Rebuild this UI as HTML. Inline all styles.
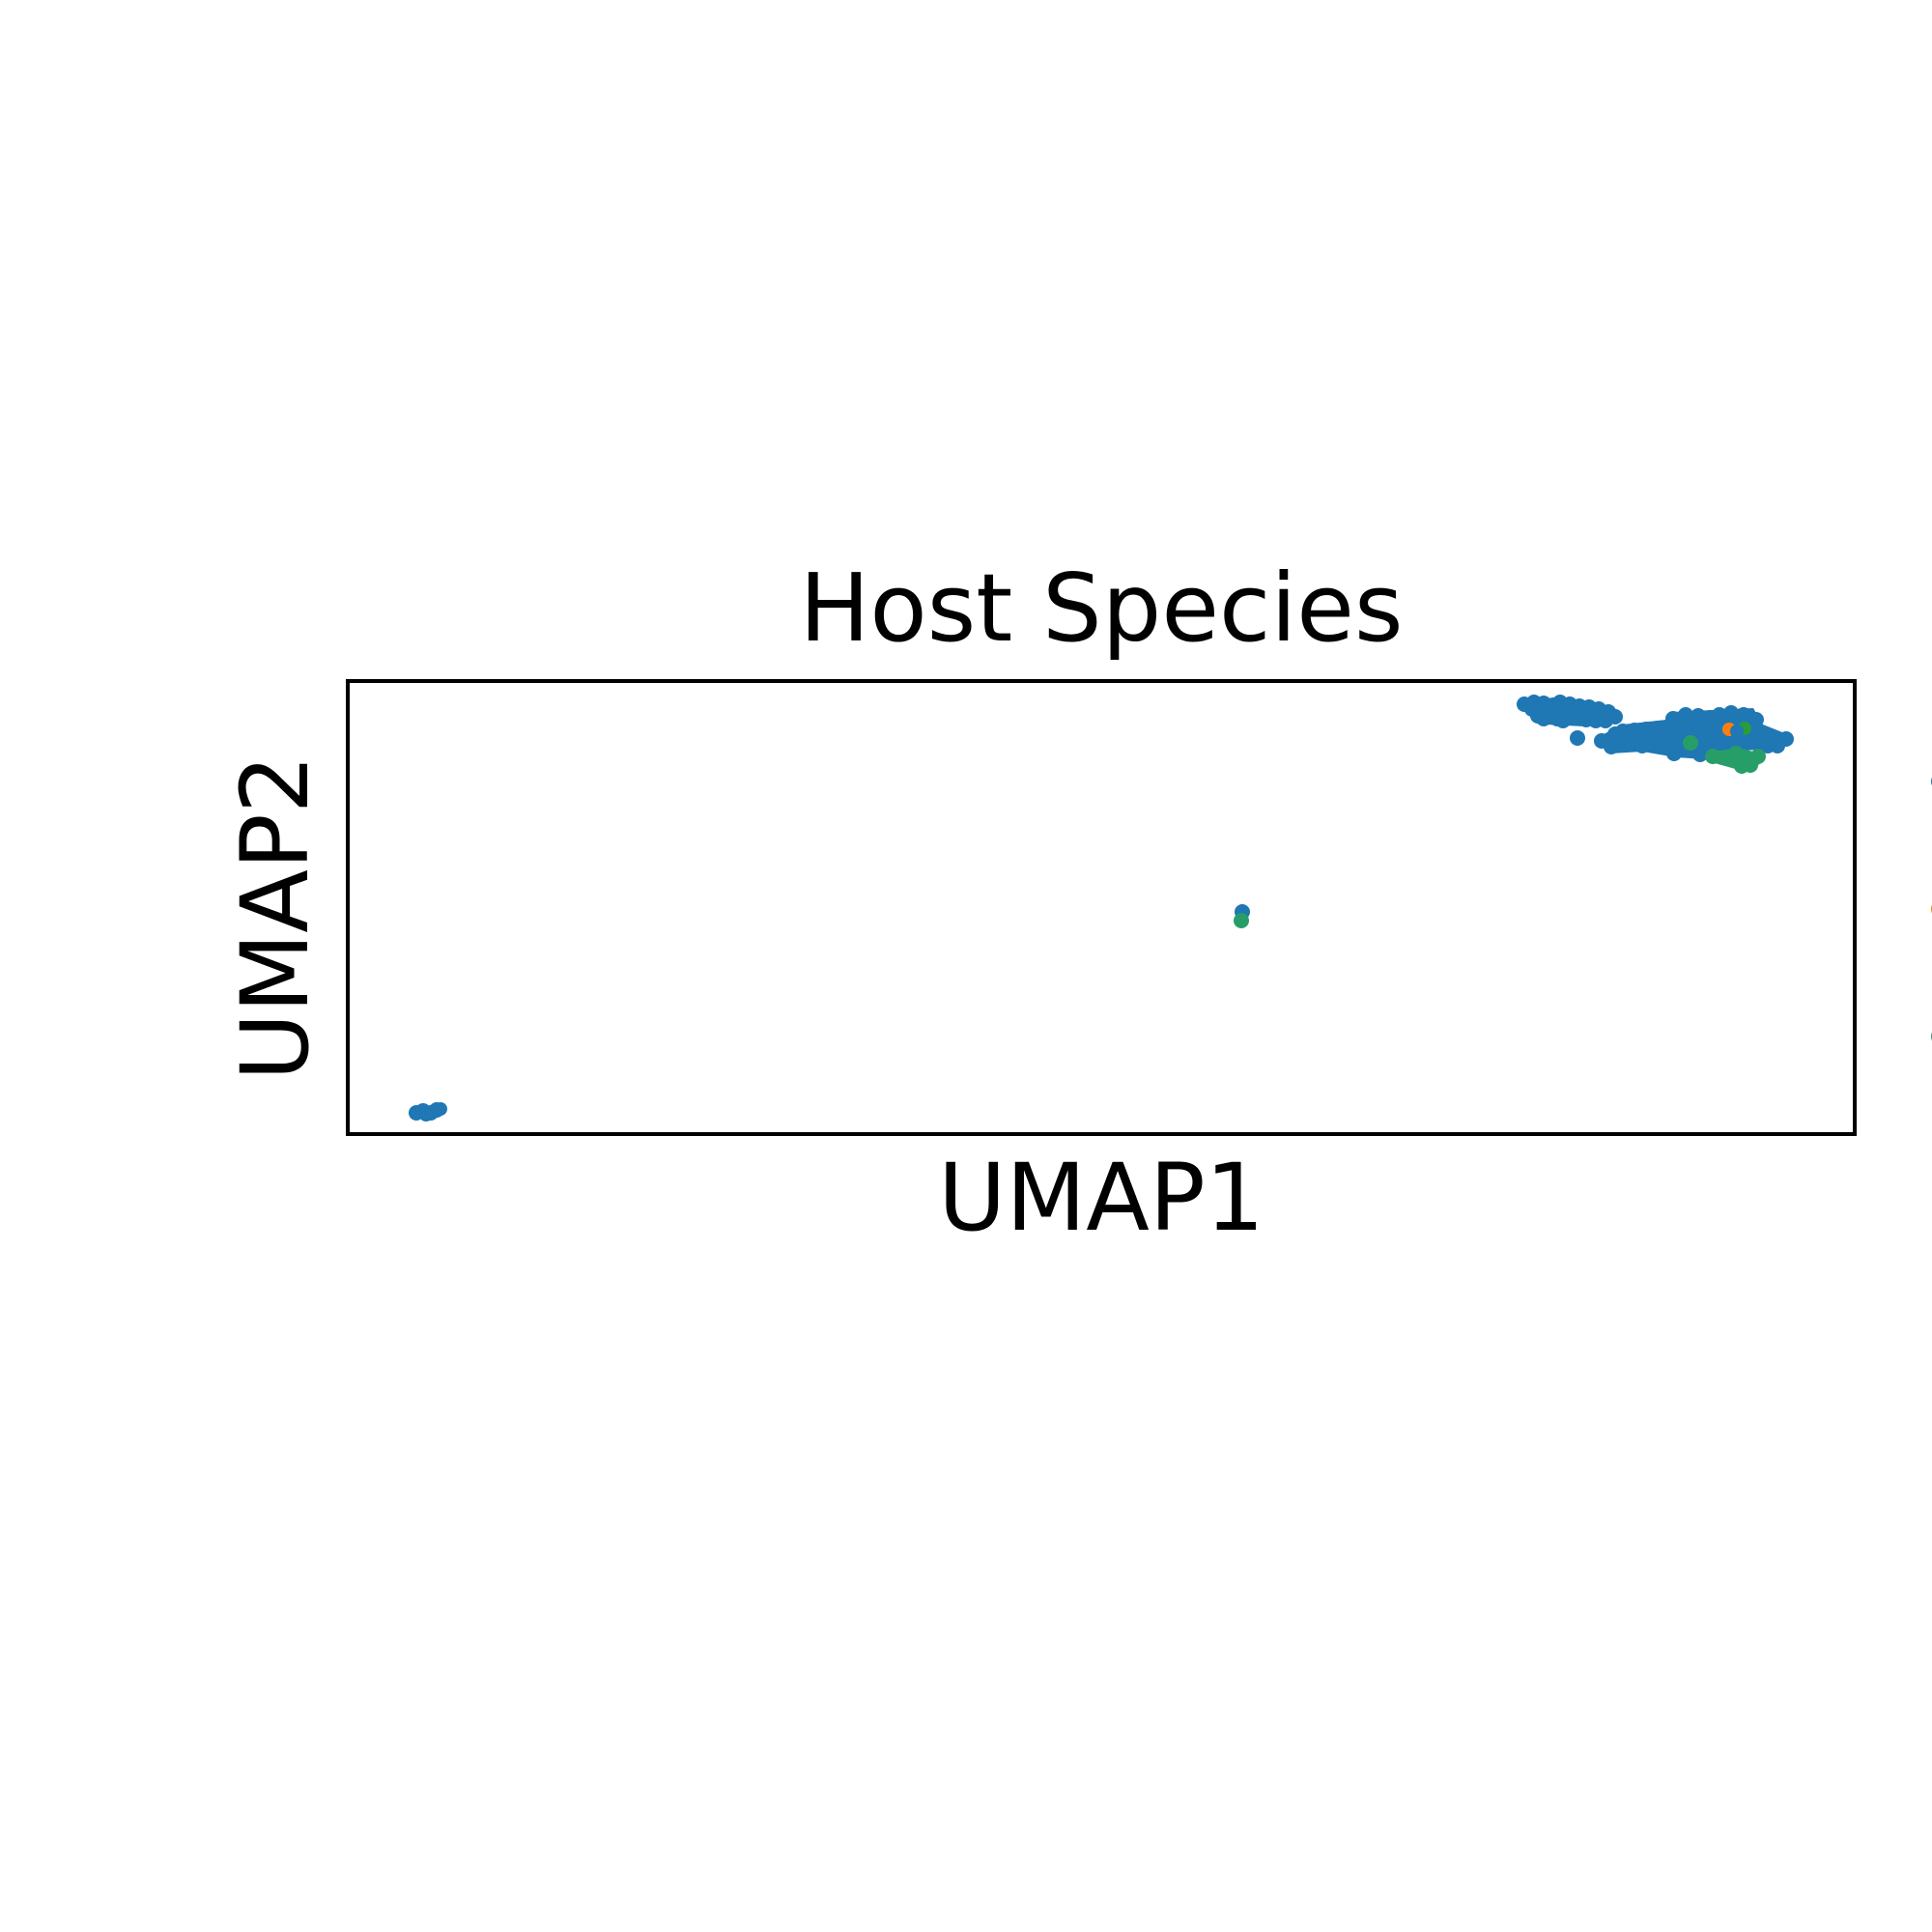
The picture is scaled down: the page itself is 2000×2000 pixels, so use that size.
<!DOCTYPE html>
<html><head><meta charset="utf-8"><style>
html,body{margin:0;padding:0;background:#fff;}
svg{display:block;}
text{font-family:"DejaVu Sans","Liberation Sans",sans-serif;fill:#000;}
</style></head><body>
<svg width="2000" height="2000" viewBox="0 0 2000 2000" xmlns="http://www.w3.org/2000/svg">
<rect width="2000" height="2000" fill="#fff"/>
<text x="1140" y="663" font-size="97" text-anchor="middle">Host Species</text>
<text x="1140" y="1273" font-size="96" text-anchor="middle">UMAP1</text>
<text transform="translate(318,950) rotate(-90)" x="0" y="0" font-size="96" text-anchor="middle">UMAP2</text>
<g fill="#1f77b4">
<!-- upper-left band filler -->
<path d="M1578,724 L1615,722 L1660,730 L1675,738 L1672,748 L1640,752 L1600,750 L1585,742 Z"/>
<circle cx="1578" cy="729" r="8"/><circle cx="1588" cy="727" r="8"/><circle cx="1598" cy="728" r="8"/>
<circle cx="1608" cy="730" r="8"/><circle cx="1615" cy="727" r="8"/><circle cx="1625" cy="729" r="8"/>
<circle cx="1635" cy="731" r="8"/><circle cx="1645" cy="732" r="8"/><circle cx="1655" cy="734" r="8"/>
<circle cx="1665" cy="737" r="8"/><circle cx="1672" cy="742" r="8"/><circle cx="1592" cy="741" r="8"/>
<circle cx="1603" cy="739" r="8"/><circle cx="1612" cy="744" r="8"/><circle cx="1622" cy="741" r="8"/>
<circle cx="1632" cy="743" r="8"/><circle cx="1642" cy="745" r="8"/><circle cx="1652" cy="746" r="8"/>
<circle cx="1662" cy="746" r="8"/><circle cx="1598" cy="744" r="8"/><circle cx="1618" cy="746" r="8"/>
<circle cx="1586" cy="734" r="8"/>
<circle cx="1633" cy="764" r="8"/>
<!-- lower band filler -->
<path d="M1660,760 L1680,750 L1725,745 L1730,737 L1815,733 L1825,750 L1850,760 L1850,772 L1820,776 L1790,778 L1765,786 L1735,784 L1700,778 L1668,780 L1657,770 Z"/>
<circle cx="1658" cy="767" r="8"/><circle cx="1668" cy="773" r="8"/><circle cx="1680" cy="770" r="8"/>
<circle cx="1680" cy="757" r="8"/><circle cx="1692" cy="756" r="8"/><circle cx="1704" cy="755" r="8"/>
<circle cx="1716" cy="754" r="8"/><circle cx="1690" cy="770" r="8"/><circle cx="1700" cy="772" r="8"/>
<circle cx="1710" cy="768" r="8"/><circle cx="1720" cy="770" r="8"/><circle cx="1730" cy="775" r="8"/>
<circle cx="1672" cy="760" r="8"/><circle cx="1700" cy="763" r="8"/><circle cx="1720" cy="762" r="8"/>
<circle cx="1732" cy="744" r="8"/><circle cx="1745" cy="740" r="8"/><circle cx="1758" cy="741" r="8"/>
<circle cx="1770" cy="743" r="8"/><circle cx="1780" cy="740" r="8"/><circle cx="1792" cy="738" r="8"/>
<circle cx="1805" cy="740" r="8"/><circle cx="1818" cy="745" r="8"/>
<circle cx="1735" cy="756" r="8"/><circle cx="1748" cy="754" r="8"/><circle cx="1760" cy="756" r="8"/>
<circle cx="1772" cy="754" r="8"/><circle cx="1784" cy="754" r="8"/><circle cx="1808" cy="756" r="8"/>
<circle cx="1818" cy="756" r="8"/>
<circle cx="1738" cy="768" r="8"/><circle cx="1760" cy="768" r="8"/><circle cx="1772" cy="770" r="8"/>
<circle cx="1784" cy="768" r="8"/><circle cx="1796" cy="768" r="8"/><circle cx="1808" cy="768" r="8"/>
<circle cx="1820" cy="770" r="8"/><circle cx="1733" cy="780" r="8"/><circle cx="1760" cy="781" r="8"/>
<circle cx="1780" cy="778" r="8"/>
<circle cx="1828" cy="760" r="8"/><circle cx="1838" cy="764" r="8"/><circle cx="1849" cy="765" r="8"/>
<circle cx="1840" cy="772" r="8"/><circle cx="1830" cy="772" r="8"/>
</g>
<circle cx="1790" cy="755" r="7" fill="#ff7f0e"/>
<circle cx="1806" cy="754" r="7" fill="#2ca02c" opacity="0.9"/>
<circle cx="1798" cy="757" r="7" fill="#1f77b4"/>
<g fill="#279e68">
<circle cx="1750" cy="769" r="8"/>
<path d="M1773,778 L1800,774 L1822,780 L1815,795 L1800,797 L1775,790 Z"/>
<circle cx="1773" cy="783" r="8"/><circle cx="1788" cy="785" r="8"/><circle cx="1797" cy="780" r="8"/>
<circle cx="1808" cy="789" r="8"/><circle cx="1815" cy="786" r="8"/><circle cx="1820" cy="783" r="8"/>
<circle cx="1803" cy="793" r="8"/><circle cx="1812" cy="792" r="8"/>
</g>
<g fill="#1f77b4">
<path d="M431,1146 L456,1143 L460,1152 L446,1158 L428,1158 Z"/>
<circle cx="431" cy="1152" r="8"/><circle cx="438" cy="1150" r="8"/><circle cx="446" cy="1152" r="8"/>
<circle cx="452" cy="1149" r="8"/><circle cx="456" cy="1148" r="7"/><circle cx="441" cy="1154" r="7"/>
<circle cx="1286" cy="944" r="8"/>
</g>
<circle cx="1285" cy="953" r="8" fill="#279e68"/>
<rect x="360" y="705" width="1560" height="469" fill="none" stroke="#000" stroke-width="4"/>
<circle cx="2009" cy="809" r="10" fill="#1f77b4"/>
<circle cx="2009" cy="941" r="10" fill="#ff7f0e"/>
<circle cx="2009" cy="1073" r="10" fill="#279e68"/>
</svg>
</body></html>
